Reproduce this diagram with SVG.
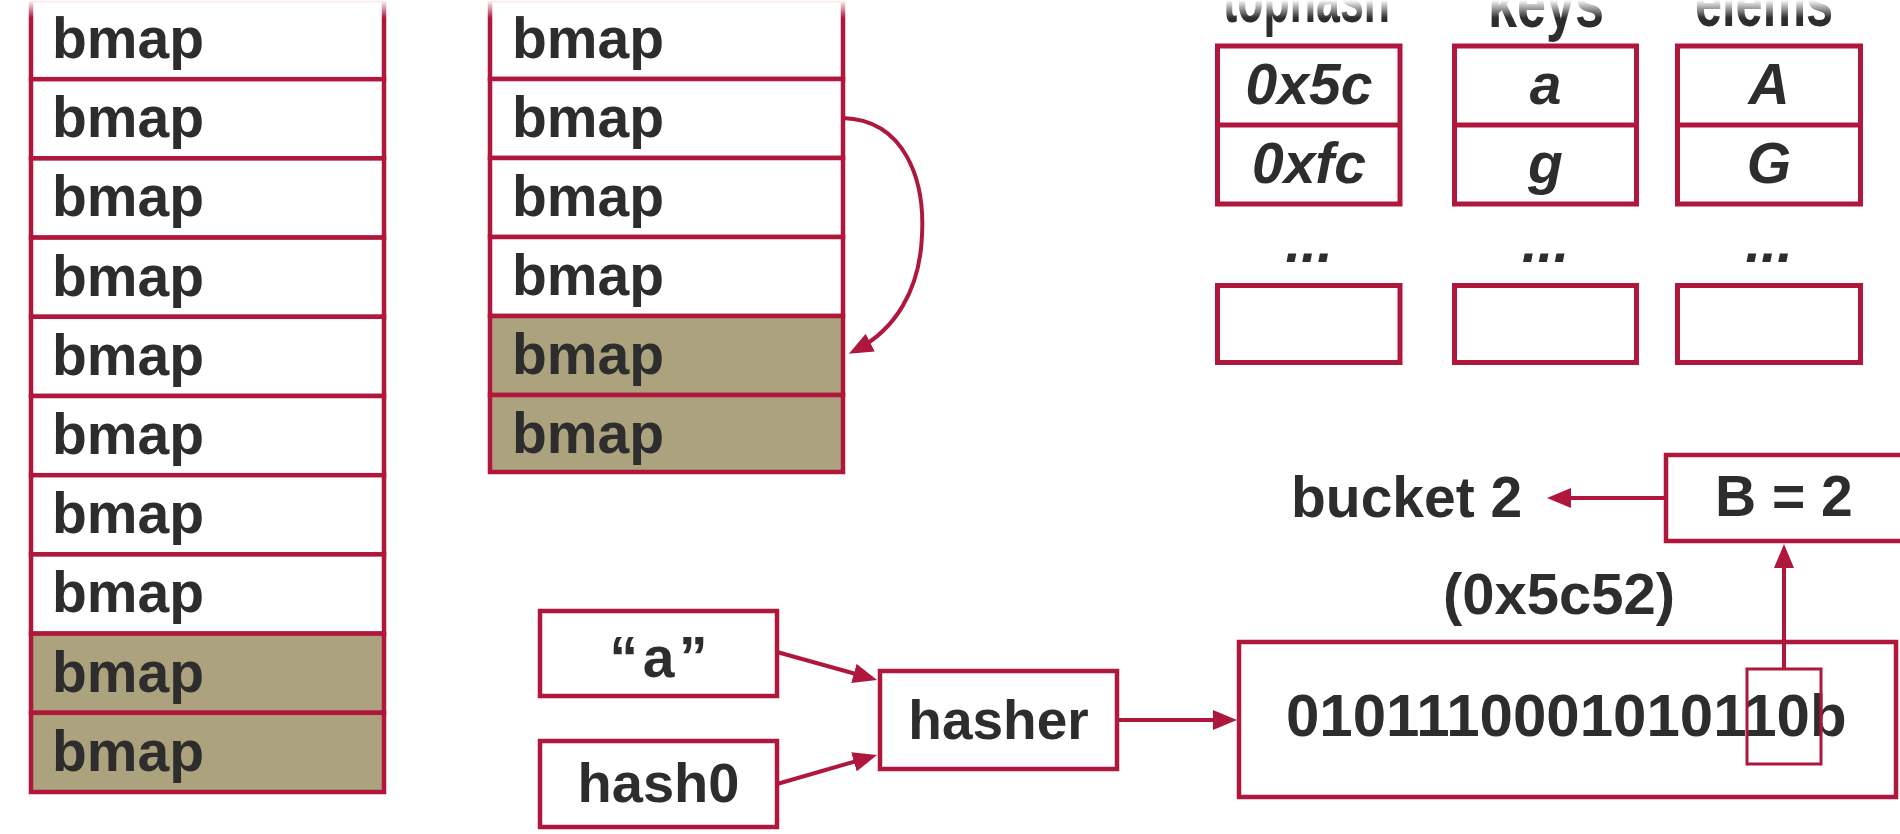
<svg xmlns="http://www.w3.org/2000/svg" width="1900" height="834" viewBox="0 0 1900 834">
<style>
.cell{fill:#ffffff;stroke:#b0173c;stroke-width:4.5}
.kh{fill:#aca27d}
.box{fill:#ffffff;stroke:#b0173c;stroke-width:4.5}
.tb{fill:#ffffff;stroke:#b0173c;stroke-width:5}
.t{font-family:"Liberation Sans",Arial,sans-serif;font-weight:bold;font-size:57px;fill:#2d2d2d}
.it{font-style:italic}
.mid{text-anchor:middle}
.hd{font-family:"Liberation Sans",Arial,sans-serif;font-weight:bold;font-size:70px;fill:#2d2d2d}
.conn{stroke:#b0173c;stroke-width:4;fill:none}
</style>
<defs>
<marker id="ah" markerUnits="userSpaceOnUse" markerWidth="24" markerHeight="20" refX="16" refY="10" orient="auto">
<path d="M0,0 L24,10 L0,20 Z" fill="#b0173c"/>
</marker>
<linearGradient id="fade" x1="0" y1="0" x2="0" y2="1">
<stop offset="0" stop-color="#ffffff" stop-opacity="1"/>
<stop offset="1" stop-color="#ffffff" stop-opacity="0"/>
</linearGradient>
</defs>
<rect width="1900" height="834" fill="#ffffff"/>

<!-- left bmap column -->
<g id="left-col">
<g id="L0"><rect class="cell" x="31" y="0" width="353" height="79.2"/><text class="t" x="52" y="58">bmap</text></g>
<g id="L1"><rect class="cell" x="31" y="79.2" width="353" height="79.2"/><text class="t" x="52" y="137">bmap</text></g>
<g id="L2"><rect class="cell" x="31" y="158.4" width="353" height="79.2"/><text class="t" x="52" y="216">bmap</text></g>
<g id="L3"><rect class="cell" x="31" y="237.6" width="353" height="79.2"/><text class="t" x="52" y="296">bmap</text></g>
<g id="L4"><rect class="cell" x="31" y="316.8" width="353" height="79.2"/><text class="t" x="52" y="375">bmap</text></g>
<g id="L5"><rect class="cell" x="31" y="396" width="353" height="79.2"/><text class="t" x="52" y="454">bmap</text></g>
<g id="L6"><rect class="cell" x="31" y="475.2" width="353" height="79.2"/><text class="t" x="52" y="533">bmap</text></g>
<g id="L7"><rect class="cell" x="31" y="554.4" width="353" height="79.2"/><text class="t" x="52" y="612">bmap</text></g>
<g id="L8"><rect class="cell kh" x="31" y="633.6" width="353" height="79.2"/><text class="t" x="52" y="692">bmap</text></g>
<g id="L9"><rect class="cell kh" x="31" y="712.8" width="353" height="79.2"/><text class="t" x="52" y="771">bmap</text></g>
</g>

<!-- middle bmap column -->
<g id="mid-col">
<g id="M0"><rect class="cell" x="490" y="0" width="353" height="79"/><text class="t" x="512" y="58">bmap</text></g>
<g id="M1"><rect class="cell" x="490" y="79" width="353" height="79"/><text class="t" x="512" y="137">bmap</text></g>
<g id="M2"><rect class="cell" x="490" y="158" width="353" height="79"/><text class="t" x="512" y="216">bmap</text></g>
<g id="M3"><rect class="cell" x="490" y="237" width="353" height="79"/><text class="t" x="512" y="295">bmap</text></g>
<g id="M4"><rect class="cell kh" x="490" y="316" width="353" height="79"/><text class="t" x="512" y="374">bmap</text></g>
<g id="M5"><rect class="cell kh" x="490" y="395" width="353" height="77"/><text class="t" x="512" y="453">bmap</text></g>
</g>

<!-- bucket table -->
<g id="tophash">
<text class="hd" x="1223" y="22" textLength="167" lengthAdjust="spacingAndGlyphs">tophash</text>
<rect class="tb" x="1217.5" y="46" width="182.5" height="158"/>
<line x1="1217.5" y1="125" x2="1400" y2="125" stroke="#b0173c" stroke-width="5"/>
<text class="t it mid" x="1309" y="104">0x5c</text>
<text class="t it mid" x="1309" y="183">0xfc</text>
<text class="t it mid" x="1309" y="262">...</text>
<rect class="tb" x="1217.5" y="285.5" width="182.5" height="77"/>
</g>
<g id="keys">
<text class="hd" x="1488" y="27" textLength="116" lengthAdjust="spacingAndGlyphs">keys</text>
<rect class="tb" x="1454.5" y="46" width="182" height="158"/>
<line x1="1454.5" y1="125" x2="1636.5" y2="125" stroke="#b0173c" stroke-width="5"/>
<text class="t it mid" x="1545.5" y="104">a</text>
<text class="t it mid" x="1545.5" y="183">g</text>
<text class="t it mid" x="1545.5" y="262">...</text>
<rect class="tb" x="1454.5" y="285.5" width="182" height="77"/>
</g>
<g id="elems">
<text class="hd" x="1695" y="26" textLength="138" lengthAdjust="spacingAndGlyphs">elems</text>
<rect class="tb" x="1677.5" y="46" width="183" height="158"/>
<line x1="1677.5" y1="125" x2="1860.5" y2="125" stroke="#b0173c" stroke-width="5"/>
<text class="t it mid" x="1769" y="104">A</text>
<text class="t it mid" x="1769" y="183">G</text>
<text class="t it mid" x="1769" y="262">...</text>
<rect class="tb" x="1677.5" y="285.5" width="183" height="77"/>
</g>

<!-- hashing flow -->
<g id="key-a"><rect class="box" x="540" y="611" width="237" height="85"/><text class="t mid" x="658.5" y="677" textLength="98" lengthAdjust="spacing">“a”</text></g>
<g id="hash0"><rect class="box" x="540" y="741" width="237" height="86"/><text class="t mid" x="658.5" y="802" style="font-size:56px">hash0</text></g>
<g id="hasher"><rect class="box" x="880" y="671" width="237" height="98"/><text class="t mid" x="998.5" y="739" style="font-size:55px">hasher</text></g>
<g id="hashval">
<rect class="box" x="1239" y="642" width="657" height="155"/>
<text class="t" x="1286" y="736" style="font-size:60px">0101110001010110b</text>
<rect x="1747" y="669" width="74" height="95" fill="none" stroke="#b0173c" stroke-width="3"/>
</g>
<g id="hexlabel"><text class="t" x="1443" y="614" style="font-size:58px">(0x5c52)</text></g>
<g id="Bbox"><rect class="box" x="1666" y="455" width="260" height="86"/><text class="t" x="1715" y="516">B = 2</text></g>
<g id="bucket"><text class="t" x="1291" y="517">bucket 2</text></g>

<!-- connectors -->
<g id="connectors">
<path class="conn" d="M843,118 C905,120 925,180 922,235 C920,290 895,330 856,350" marker-end="url(#ah)"/>
<line class="conn" x1="777" y1="652" x2="869.3" y2="677.8" marker-end="url(#ah)"/>
<line class="conn" x1="777" y1="784" x2="869.3" y2="757.3" marker-end="url(#ah)"/>
<line class="conn" x1="1117" y1="720" x2="1229" y2="720" marker-end="url(#ah)"/>
<line class="conn" x1="1784" y1="669" x2="1784" y2="552" marker-end="url(#ah)"/>
<line class="conn" x1="1664" y1="498" x2="1555" y2="498" marker-end="url(#ah)"/>
</g>

<rect x="0" y="0" width="1900" height="18" fill="url(#fade)"/>
</svg>
